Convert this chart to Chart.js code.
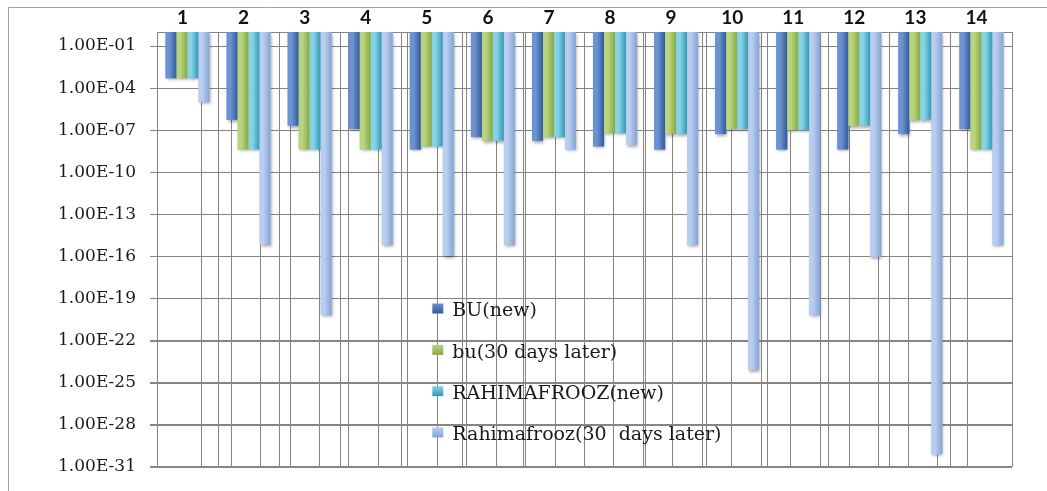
<!DOCTYPE html>
<html>
<head>
<meta charset="utf-8">
<script src="https://cdn.jsdelivr.net/npm/chart.js@4/dist/chart.umd.min.js"></script>
<style>
  html, body { margin: 0; background: #fff; }
  #wrap { width: 1047px; height: 491px; }
</style>
</head>
<body>
<div id="wrap"><canvas id="chart"></canvas></div>
<script>
// categories along the top axis
const categories = ['1', '2', '3', '4', '5', '6', '7', '8', '9', '10', '11', '12', '13', '14'];
const seriesNames = ['BU(new)', 'bu(30 days later)', 'RAHIMAFROOZ(new)', 'Rahimafrooz(30  days later)'];

// values (log scale)
const buNew = [5e-4, 5.6e-7, 2.1e-7, 1.2e-7, 4.2e-9, 3.2e-8, 1.8e-8, 7e-9, 4.2e-9, 5.4e-8, 4.2e-9, 4.2e-9, 5.4e-8, 1.2e-7];
const bu30 = [5e-4, 4.2e-9, 4.2e-9, 4.2e-9, 7e-9, 1.8e-8, 3.2e-8, 6e-8, 5.4e-8, 1.2e-7, 1e-7, 2.1e-7, 5.6e-7, 4.2e-9];
const rahimNew = [5e-4, 4.2e-9, 4.2e-9, 4.2e-9, 7e-9, 1.8e-8, 3.2e-8, 6e-8, 5.4e-8, 1.2e-7, 1e-7, 2.1e-7, 5.6e-7, 4.2e-9];
const rahim30 = [1e-5, 6.5e-16, 6.3e-21, 6.5e-16, 1.1e-16, 6.5e-16, 4.2e-9, 9.3e-9, 6.5e-16, 8.5e-25, 6.3e-21, 9.5e-17, 8e-31, 6.5e-16];

// y axis ticks
const tickExponents = [-31, -28, -25, -22, -19, -16, -13, -10, -7, -4, -1];
const tickLabels = ['1.00E-31', '1.00E-28', '1.00E-25', '1.00E-22', '1.00E-19', '1.00E-16',
                    '1.00E-13', '1.00E-10', '1.00E-07', '1.00E-04', '1.00E-01'];

const edgeColors = ['#33599a', '#86a845', '#3597b2', '#86a3d6'];
const midColors = ['#6b93d1', '#b9d47e', '#86d3e8', '#b8cdef'];
const gridColor = '#858585';

const seriesValues = [buNew, bu30, rahimNew, rahim30];

// white page with the outer frame
const framePlugin = {
  id: 'frame',
  beforeDraw(chart) {
    const ctx = chart.ctx;
    ctx.save();
    ctx.fillStyle = '#fff';
    ctx.fillRect(0, 0, chart.width, chart.height);
    ctx.strokeStyle = '#a0a0a0';
    ctx.lineWidth = 1;
    ctx.beginPath();
    ctx.moveTo(8.5, chart.height);
    ctx.lineTo(8.5, 7.5);
    ctx.lineTo(chart.width, 7.5);
    ctx.stroke();
    ctx.restore();
  }
};

// horizontal grid lines at the y scale ticks
const yGridPlugin = {
  id: 'yGrid',
  beforeDatasetsDraw(chart) {
    const ctx = chart.ctx;
    const a = chart.chartArea;
    const ys = chart.scales.y;
    ctx.save();
    ctx.strokeStyle = gridColor;
    ctx.lineWidth = 1;
    ctx.beginPath();
    ys.ticks.forEach(t => {
      const y = Math.round(ys.getPixelForValue(t.value)) + 0.5;
      ctx.moveTo(a.left - 7, y);
      ctx.lineTo(a.right, y);
    });
    ctx.stroke();
    ctx.restore();
  }
};

// shadow under bars, then a side-lit gradient on top of each bar
const shadePlugin = {
  id: 'shade',
  beforeDatasetsDraw(chart) {
    const ctx = chart.ctx;
    ctx.save();
    ctx.shadowColor = 'rgba(0,0,0,0.35)';
    ctx.shadowBlur = 3;
    ctx.shadowOffsetY = 2;
    ctx.shadowOffsetX = 1;
  },
  afterDatasetsDraw(chart) {
    const ctx = chart.ctx;
    ctx.restore();
    ctx.save();
    chart.data.datasets.forEach((ds, di) => {
      const meta = chart.getDatasetMeta(di);
      meta.data.forEach(bar => {
        const p = bar.getProps(['x', 'y', 'base', 'width'], true);
        const left = p.x - p.width / 2;
        const top = Math.min(p.y, p.base);
        const h = Math.abs(p.base - p.y);
        const g = ctx.createLinearGradient(left, 0, left + p.width, 0);
        g.addColorStop(0, midColors[di]);
        g.addColorStop(0.35, midColors[di]);
        g.addColorStop(1, edgeColors[di]);
        ctx.fillStyle = g;
        ctx.fillRect(left, top, p.width, h);
      });
    });
    ctx.restore();
  }
};

// legend sitting inside the plot area
const innerLegend = {
  id: 'innerLegend',
  afterDraw(chart) {
    const ctx = chart.ctx;
    const a = chart.chartArea;
    const x = a.left + 0.322 * (a.right - a.left);
    const y0 = a.top + 0.636 * (a.bottom - a.top);
    const step = 0.095 * (a.bottom - a.top);
    ctx.save();
    ctx.font = '19px "DejaVu Serif", serif';
    ctx.textBaseline = 'middle';
    ctx.textAlign = 'left';
    seriesNames.forEach((name, i) => {
      const y = y0 + i * step;
      const g = ctx.createLinearGradient(x, y - 5, x, y + 5);
      g.addColorStop(0, midColors[i]);
      g.addColorStop(1, edgeColors[i]);
      ctx.fillStyle = g;
      ctx.fillRect(x, y - 5, 11, 10);
      ctx.fillStyle = '#1a1a1a';
      ctx.fillText(name, x + 20, y + 3);
    });
    ctx.restore();
  }
};

const datasets = seriesNames.map((name, i) => ({
  label: name,
  data: seriesValues[i],
  base: 1,
  backgroundColor: midColors[i],
  borderWidth: 0,
  categoryPercentage: 0.72,
  barPercentage: 1.0
}));

new Chart(document.getElementById('chart'), {
  type: 'bar',
  data: { labels: categories, datasets: datasets },
  plugins: [framePlugin, yGridPlugin, shadePlugin, innerLegend],
  options: {
    responsive: true,
    maintainAspectRatio: false,
    animation: false,
    layout: { padding: { left: 0, right: 35, top: 0, bottom: 18 } },
    plugins: { legend: { display: false }, tooltip: { enabled: false } },
    scales: {
      x: {
        position: 'top',
        offset: true,
        grid: { offset: true, color: gridColor, drawTicks: false },
        border: { color: gridColor },
        ticks: {
          color: '#111',
          padding: 3,
          labelOffset: -5,
          font: { family: 'Lato, "Liberation Sans", sans-serif', size: 19, weight: 'bold' }
        },
        afterFit(scale) { scale.height = 32; }
      },
      x2: {
        type: 'linear',
        position: 'top',
        min: -0.5,
        max: 13.5,
        grid: { color: gridColor, drawTicks: false },
        border: { display: false },
        ticks: { display: false },
        afterBuildTicks(scale) {
          const t = [];
          categories.forEach((c, i) => { t.push({ value: i - 0.38 }); t.push({ value: i + 0.38 }); });
          scale.ticks = t;
        },
        afterFit(scale) { scale.height = 0; }
      },
      y: {
        type: 'logarithmic',
        min: 1e-31,
        max: 1,
        grid: { color: gridColor, tickLength: 7 },
        border: { color: gridColor },
        afterBuildTicks(scale) {
          scale.ticks = tickExponents.map(e => ({ value: Math.pow(10, e) }));
        },
        ticks: {
          color: '#1a1a1a',
          padding: 14,
          autoSkip: false,
          font: { family: '"DejaVu Serif", serif', size: 17 },
          callback: (v, i) => tickLabels[i]
        },
        afterFit(scale) { scale.width = 157; }
      }
    }
  }
});
</script>
</body>
</html>
